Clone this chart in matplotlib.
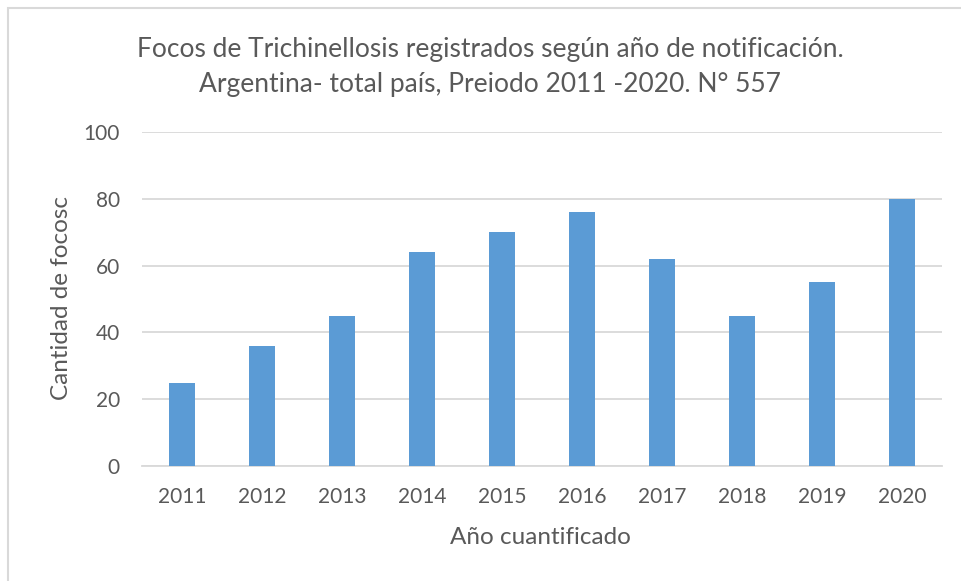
import matplotlib
matplotlib.use("Agg")
import matplotlib.pyplot as plt
from matplotlib.patches import Rectangle

years = ["2011", "2012", "2013", "2014", "2015", "2016", "2017", "2018", "2019", "2020"]
focos = [25, 36, 45, 64, 70, 76, 62, 45, 55, 80]
yticks = [0, 20, 40, 60, 80, 100]

title = "Focos de Trichinellosis registrados según año de notificación.\nArgentina- total país, Preiodo 2011 -2020. N° 557"
xlabel = "Año cuantificado"
ylabel = "Cantidad de focosc"

plt.rcParams['font.family'] = ['Lato', 'DejaVu Sans']
text_color = "#595959"
W, H = 962, 581
fig = plt.figure(figsize=(W/100, H/100), dpi=100)
fig.patch.set_facecolor("white")

# outer chart border (partially cropped)
fig.patches.append(Rectangle((8/W, -0.1), 1.2, 1 - 8/H + 0.1, transform=fig.transFigure,
                             fill=False, edgecolor="#D9D9D9", linewidth=1.5))

ax = fig.add_axes([142/W, 1 - 466/H, 800/W, (466-132)/H])
x = range(len(years))
ax.bar(x, focos, width=0.33, color="#5B9BD5", zorder=3)
ax.set_xlim(-0.5, len(years) - 0.5)
ax.set_ylim(0, 100)
ax.set_yticks(yticks)
ax.set_xticks(list(x))
ax.set_xticklabels(years)
ax.yaxis.grid(True, color="#D9D9D9", linewidth=1.3, zorder=0)
ax.set_axisbelow(True)
for s in ["top", "right", "left"]:
    ax.spines[s].set_visible(False)
ax.spines["bottom"].set_color("#D9D9D9")
ax.spines["bottom"].set_linewidth(1.3)
ax.tick_params(axis="both", length=0, labelsize=15, labelcolor=text_color)
ax.tick_params(axis="y", pad=16)
ax.tick_params(axis="x", pad=15)

fig.text(490/W, 1 - 67/H, title, ha="center", va="center", fontsize=19,
         color=text_color, linespacing=1.5)
fig.text(540/W, 1 - 537/H, xlabel, ha="center", va="center", fontsize=17.5, color=text_color)
fig.text(62/W, 1 - 298/H, ylabel, ha="center", va="center", rotation=90, fontsize=17.5, color=text_color)

fig.savefig("out.png", dpi=100, facecolor="white")
